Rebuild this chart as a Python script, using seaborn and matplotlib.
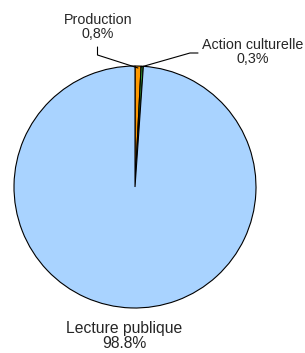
import matplotlib
matplotlib.use("Agg")
import matplotlib.pyplot as plt
import seaborn as sns

# Répartition (%)
labels = ["Production", "Action culturelle", "Lecture publique"]
values = [0.8, 0.3, 98.8]
pct_text = ["0,8%", "0,3%", "98.8%"]
colors = ["#FF9900", "#339933", "#A9D3FF"]

sns.set_style("white")
plt.rcParams["font.family"] = ["Liberation Sans", "DejaVu Sans"]

W, H = 305, 353
cx, cy, R = 135, 187, 121  # pie centre/radius in pixels

fig = plt.figure(figsize=(W / 100, H / 100), dpi=100)
ax = fig.add_axes([0, 0, 1, 1])
ax.pie(values, colors=colors, startangle=90, counterclock=False, radius=1,
       wedgeprops={"edgecolor": "black", "linewidth": 0.8})
ax.set_xlim(-cx / R, (W - cx) / R)
ax.set_ylim(-(H - cy) / R, cy / R)
ax.set_aspect("equal")
ax.axis("off")

def px(x, y):
    return (x - cx) / R, (cy - y) / R

# leader lines
ax.plot(*zip(px(97.5, 47), px(97.5, 55), px(138, 68)), color="black", lw=0.8)
ax.plot(*zip(px(141, 67), px(190, 53), px(198, 53)), color="black", lw=0.8)

ax.text(*px(98, 27), f"{labels[0]}\n{pct_text[0]}", ha="center", va="center",
        fontsize=10.3, linespacing=1.05)
ax.text(*px(253, 52), f"{labels[1]}\n{pct_text[1]}", ha="center", va="center",
        fontsize=10.3, linespacing=1.05)
ax.text(*px(124, 336), f"{labels[2]}\n{pct_text[2]}", ha="center", va="center",
        fontsize=11.3, linespacing=1.05)

fig.savefig("out.png", dpi=100, facecolor="white")
